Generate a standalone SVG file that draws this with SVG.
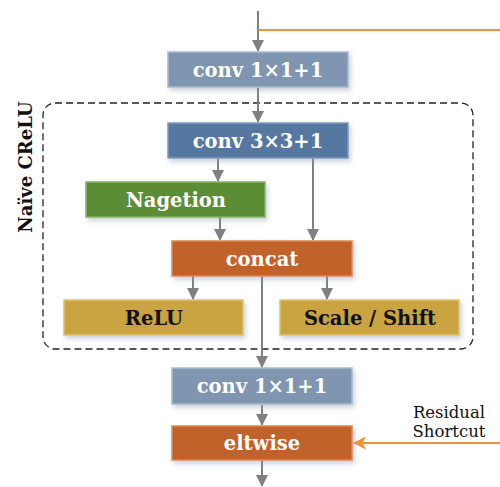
<svg xmlns="http://www.w3.org/2000/svg" width="500" height="487" viewBox="0 0 500 487">
<style>
.box{stroke-width:1.5}
.lbl{font-family:"DejaVu Serif","Liberation Serif",serif;font-weight:bold;font-size:19.5px;text-anchor:middle;fill:#fff}
.dark{fill:#111}
.con{stroke:#808080;stroke-width:2;fill:none}
.res{stroke:#f0913f;stroke-width:2;fill:none}
</style>
<defs>
<filter id="sh" x="-10%" y="-20%" width="125%" height="150%">
<feDropShadow dx="2" dy="3" stdDeviation="2.5" flood-color="#8a9ab0" flood-opacity="0.45"/>
</filter>
<marker id="ag" viewBox="0 0 12 12" refX="11" refY="6" markerWidth="12" markerHeight="12" markerUnits="userSpaceOnUse" orient="auto">
<path d="M0,0 L12,6 L0,12 Z" fill="#808080"/>
</marker>
<marker id="ao" viewBox="0 0 12 12" refX="11" refY="6" markerWidth="13" markerHeight="13" markerUnits="userSpaceOnUse" orient="auto">
<path d="M0,0 L12,6 L0,12 L3,6 Z" fill="#f0913f"/>
</marker>
</defs>
<rect x="43" y="103" width="430" height="246" rx="12" fill="none" stroke="#222" stroke-width="1.3" stroke-dasharray="7,4"/>
<text transform="translate(32,167) rotate(-90)" font-family="DejaVu Serif,Liberation Serif,serif" font-weight="bold" font-size="18" text-anchor="middle" fill="#111">Naïve CReLU</text>
<g id="connectors">
<line class="con" x1="258" y1="11" x2="258" y2="51" marker-end="url(#ag)"/>
<polyline class="res" points="500,30 258,30"/>
<line class="con" x1="258" y1="87" x2="258" y2="122" marker-end="url(#ag)"/>
<line class="con" x1="218" y1="158" x2="218" y2="181" marker-end="url(#ag)"/>
<line class="con" x1="313" y1="158" x2="313" y2="240" marker-end="url(#ag)"/>
<line class="con" x1="220" y1="217" x2="220" y2="240" marker-end="url(#ag)"/>
<line class="con" x1="193" y1="276" x2="193" y2="299" marker-end="url(#ag)"/>
<line class="con" x1="327" y1="276" x2="327" y2="299" marker-end="url(#ag)"/>
<line class="con" x1="262" y1="276" x2="262" y2="367" marker-end="url(#ag)"/>
<line class="con" x1="262" y1="405" x2="262" y2="425" marker-end="url(#ag)"/>
<line class="con" x1="262" y1="460" x2="262" y2="486" marker-end="url(#ag)"/>
<line class="res" x1="500" y1="443" x2="354" y2="443" marker-end="url(#ao)"/>
</g>
<g id="conv1">
<rect class="box" x="168" y="52" width="180" height="35" fill="#7f95b0" stroke="#a9bccf" filter="url(#sh)"/>
<text class="lbl" x="258" y="77">conv 1×1+1</text>
</g>
<g id="conv3">
<rect class="box" x="168" y="123" width="180" height="35" fill="#56779f" stroke="#7f9bbd" filter="url(#sh)"/>
<text class="lbl" x="258" y="148">conv 3×3+1</text>
</g>
<g id="negation">
<rect class="box" x="86" y="182" width="179" height="35" fill="#5b8c34" stroke="#86b35e" filter="url(#sh)"/>
<text class="lbl" x="176" y="207">Nagetion</text>
</g>
<g id="concat">
<rect class="box" x="172" y="241" width="180" height="35" fill="#c0622a" stroke="#dc8a55" filter="url(#sh)"/>
<text class="lbl" x="262" y="266">concat</text>
</g>
<g id="relu">
<rect class="box" x="64" y="300" width="179" height="35" fill="#c9a43f" stroke="#e2c46a" filter="url(#sh)"/>
<text class="lbl dark" x="154" y="325">ReLU</text>
</g>
<g id="scale">
<rect class="box" x="280" y="300" width="179" height="35" fill="#c9a43f" stroke="#e2c46a" filter="url(#sh)"/>
<text class="lbl dark" x="370" y="325">Scale / Shift</text>
</g>
<g id="conv1b">
<rect class="box" x="172" y="368" width="180" height="36" fill="#7f95b0" stroke="#a9bccf" filter="url(#sh)"/>
<text class="lbl" x="262" y="393">conv 1×1+1</text>
</g>
<g id="eltwise">
<rect class="box" x="172" y="426" width="180" height="34" fill="#c0622a" stroke="#dc8a55" filter="url(#sh)"/>
<text class="lbl" x="262" y="450">eltwise</text>
</g>
<g id="residual-label" font-family="DejaVu Serif,Liberation Serif,serif" font-size="16.5" fill="#111" text-anchor="middle">
<text x="449" y="418">Residual</text>
<text x="449" y="437">Shortcut</text>
</g>
</svg>
